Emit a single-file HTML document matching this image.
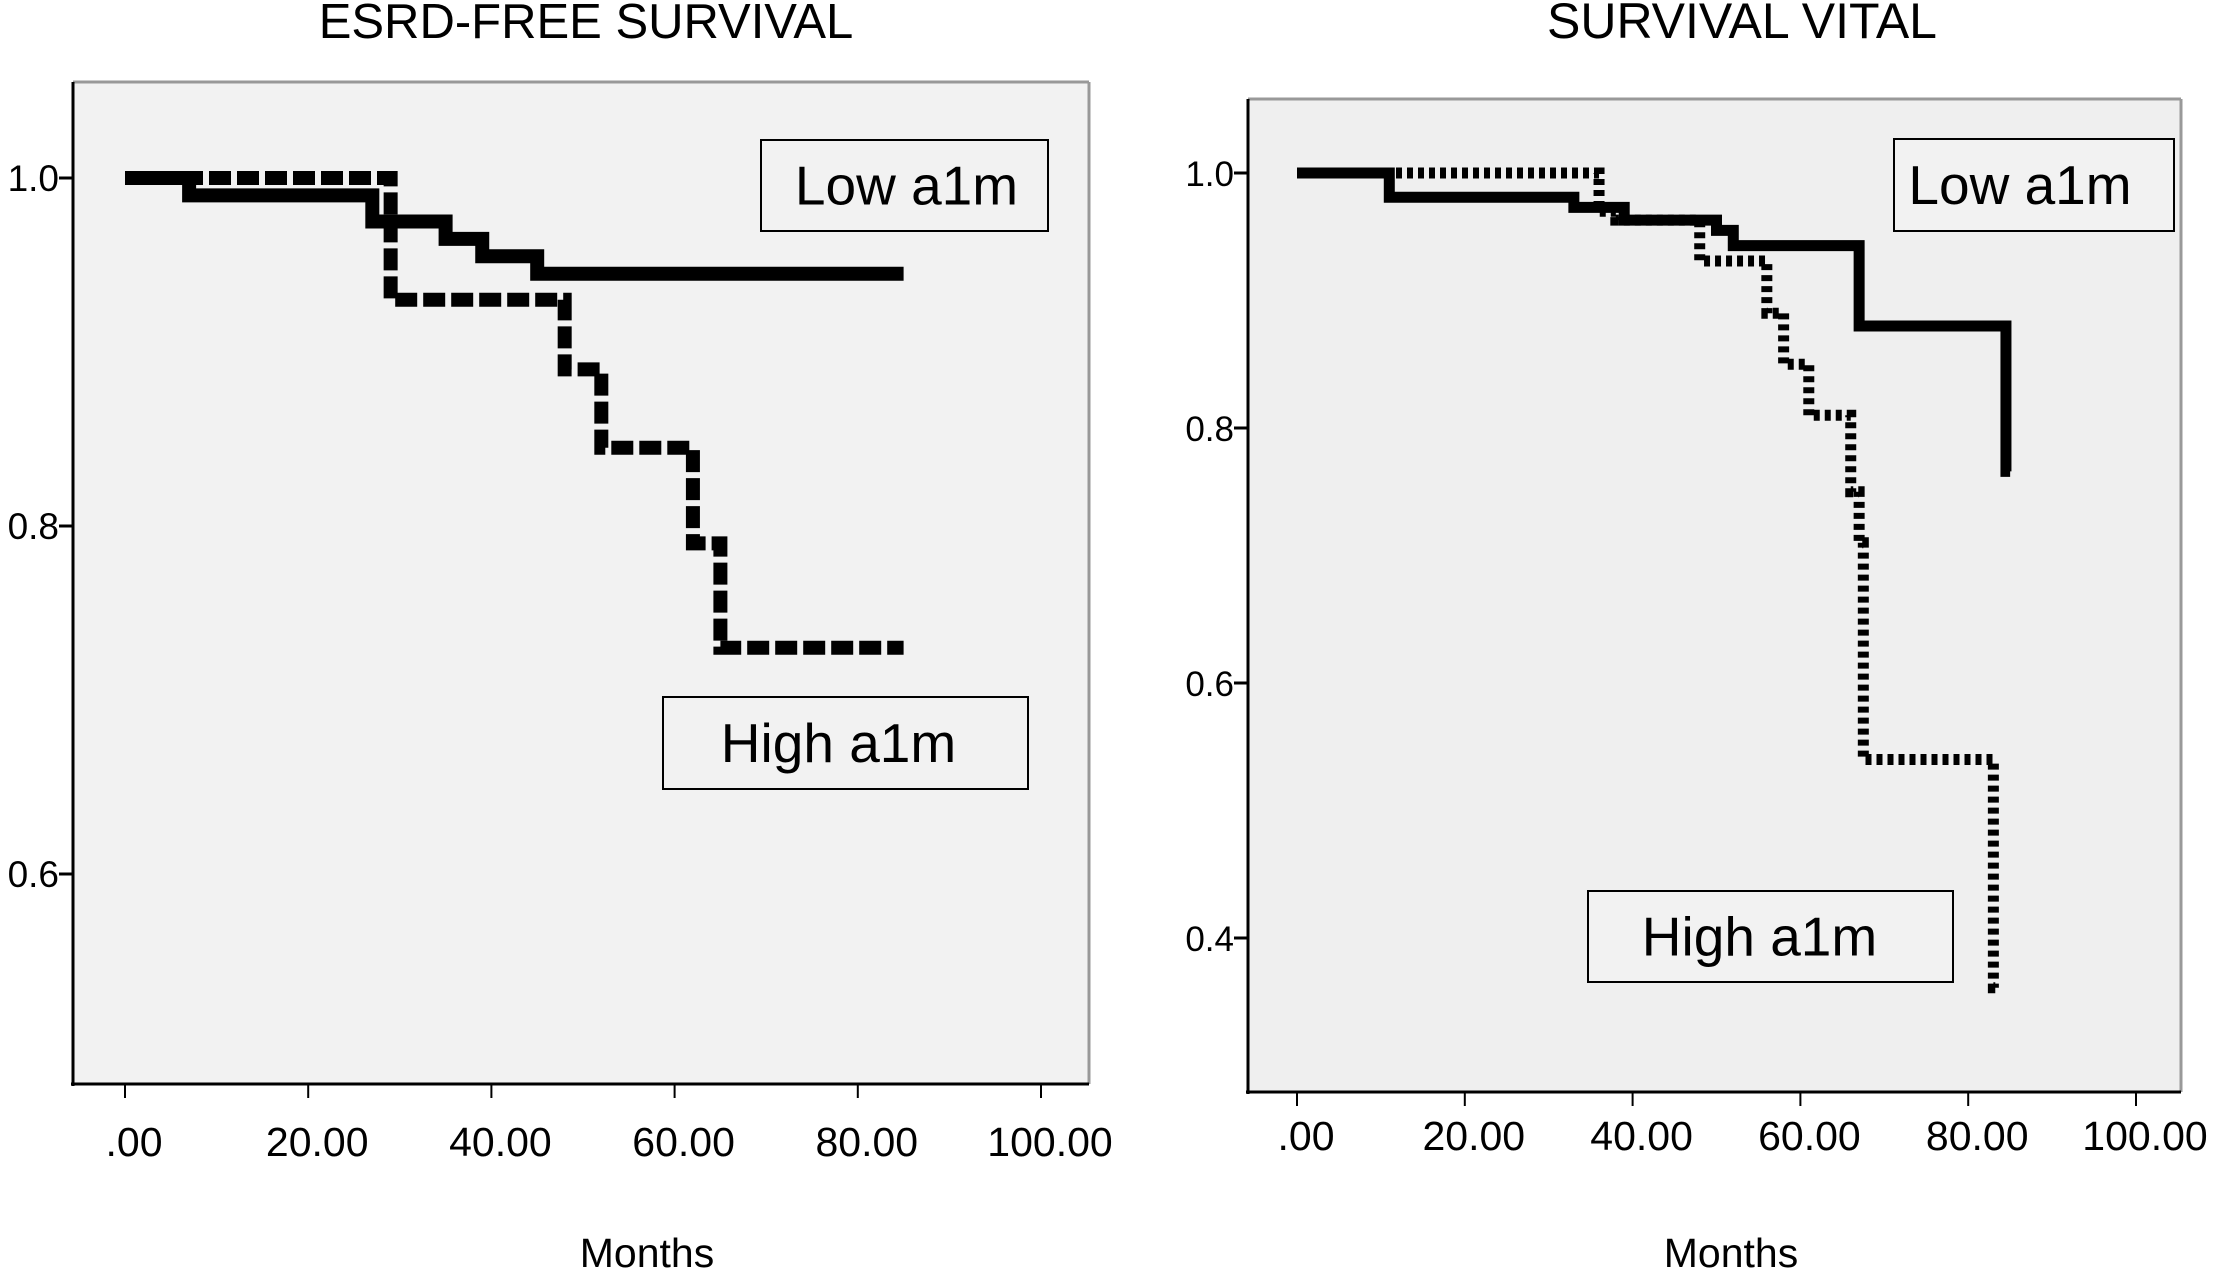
<!DOCTYPE html>
<html><head><meta charset="utf-8"><style>
html,body{margin:0;padding:0;background:#fff;}
svg{display:block;font-family:"Liberation Sans",Arial,sans-serif;}
</style></head><body>
<svg id="c" width="2221" height="1274" viewBox="0 0 2221 1274"></svg>
<script>
// ---- Left panel data (ESRD-free survival) ----
const leftLowT = [0, 7, 27, 35, 39, 45, 85];
const leftLowS = [1.0, 0.99, 0.975, 0.965, 0.955, 0.945, 0.945];
const leftHighT = [0, 29, 48, 52, 62, 65, 85];
const leftHighS = [1.0, 0.93, 0.89, 0.845, 0.79, 0.73, 0.73];
const leftYTicks = [1.0, 0.8, 0.6];
const leftYLabels = ["1.0", "0.8", "0.6"];
// ---- Right panel data (vital survival) ----
const rightLowT = [0, 11, 33, 39, 50, 52, 67, 84.5, 85];
const rightLowS = [1.0, 0.981, 0.973, 0.963, 0.955, 0.943, 0.88, 0.766, 0.766];
const rightHighT = [0, 36, 38, 48, 56, 58, 61, 66, 67, 67.5, 83, 83.5];
const rightHighS = [1.0, 0.97, 0.963, 0.931, 0.89, 0.85, 0.81, 0.75, 0.71, 0.54, 0.361, 0.361];
const rightYTicks = [1.0, 0.8, 0.6, 0.4];
const rightYLabels = ["1.0", "0.8", "0.6", "0.4"];
const xTicks = [0, 20, 40, 60, 80, 100];
const xLabels = [".00", "20.00", "40.00", "60.00", "80.00", "100.00"];

const NS = "http://www.w3.org/2000/svg";
const svg = document.getElementById('c');
function mk(tag, attrs, parent) {
  const e = document.createElementNS(NS, tag);
  for (const k in attrs) e.setAttribute(k, attrs[k]);
  (parent || svg).appendChild(e);
  return e;
}

function panel(p) {
  const g = mk('g', {});
  
  
  const sx = v => p.x0 + (v - 0) * (p.x100 - p.x0) / 100;
  const sy = v => p.y1 + (1 - v) * (p.y08 - p.y1) / 0.2;
  const bg = mk('rect', {x: p.L, y: p.T, width: p.R - p.L, height: p.B - p.T, fill: p.bg}, g);
  
  
  mk('line', {x1: p.L, y1: p.T, x2: p.R, y2: p.T, stroke: '#999', 'stroke-width': 3}, g);
  mk('line', {x1: p.R, y1: p.T, x2: p.R, y2: p.B, stroke: '#999', 'stroke-width': 3}, g);
  const ya = mk('line', {x1: p.L, y1: p.T, x2: p.L, y2: p.B + 2, stroke: '#000', 'stroke-width': 3}, g);
  
  
  const xa = mk('line', {x1: p.L - 2, y1: p.B, x2: p.R, y2: p.B, stroke: '#000', 'stroke-width': 3}, g);
  
  
  p.yTicks.forEach((v, i) => {
    const y = sy(v);
    mk('line', {x1: p.L - 14, y1: y, x2: p.L, y2: y, stroke: '#000', 'stroke-width': 3}, g);
    const t = mk('text', {x: p.L - 14, y: y + 13, 'text-anchor': 'end', 'font-size': p.yfs}, g);
    t.textContent = p.yLabels[i];
    
    
  });
  xTicks.forEach((v, i) => {
    const x = sx(v);
    mk('line', {x1: x, y1: p.B, x2: x, y2: p.B + 14, stroke: '#000', 'stroke-width': 2}, g);
    const t = mk('text', {x: x + 9, y: p.xlY, 'text-anchor': 'middle', 'font-size': 41}, g);
    t.textContent = xLabels[i];
    
    
  });
  const ti = mk('text', {x: p.titleX, y: 38, 'text-anchor': 'middle', 'font-size': p.tfs}, g);
  ti.textContent = p.title;
  
  
  const xt = mk('text', {x: p.monthsX, y: 1267, 'text-anchor': 'middle', 'font-size': 41}, g);
  xt.textContent = 'Months';
  
  

  function step(T, S) {
    let d = 'M' + sx(T[0]) + ' ' + sy(S[0]);
    for (let i = 1; i < T.length; i++) {
      d += ' H' + sx(T[i]) + ' V' + sy(S[i]);
    }
    return d;
  }
  const lo = mk('path', {d: step(p.lowT, p.lowS), fill: 'none', stroke: '#000', 'stroke-width': p.sw}, g);
  
  
  const hi = mk('path', {d: step(p.highT, p.highS), fill: 'none', stroke: '#000', 'stroke-width': p.sw, 'stroke-dasharray': p.dash}, g);
  
  

  [[p.lowBox, 'Low a1m', 'legend-low-a1m', p.lowOff], [p.highBox, 'High a1m', 'legend-high-a1m', p.highOff]].forEach(b => {
    const bx = b[0];
    const lg = mk('g', {}, g);
    
    
    mk('rect', {x: bx[0], y: bx[1], width: bx[2] - bx[0], height: bx[3] - bx[1], fill: '#f2f2f2', stroke: '#000', 'stroke-width': 2}, lg);
    const t = mk('text', {x: (bx[0] + bx[2]) / 2 + b[3], y: (bx[1] + bx[3]) / 2 + 19, 'text-anchor': 'middle', 'font-size': 55}, lg);
    t.textContent = b[1];
  });
}

panel({name: 'esrd-free-survival-chart', L: 73, T: 82, R: 1089, B: 1084, bg: '#f2f2f2',
  x0: 125, x100: 1041, y1: 178, y08: 526, yTicks: leftYTicks, yLabels: leftYLabels,
  xlY: 1156, title: 'ESRD-FREE SURVIVAL', titleX: 586, monthsX: 647, tfs: 49, yfs: 37,
  lowT: leftLowT, lowS: leftLowS, highT: leftHighT, highS: leftHighS, sw: 14, dash: '22 6',
  lowBox: [761, 140, 1048, 231], highBox: [663, 697, 1028, 789], lowOff: 2, highOff: -7});
panel({name: 'survival-vital-chart', L: 1248, T: 99, R: 2181, B: 1092, bg: '#efefef',
  x0: 1297, x100: 2136, y1: 173, y08: 428, yTicks: rightYTicks, yLabels: rightYLabels,
  xlY: 1150, title: 'SURVIVAL VITAL', titleX: 1742, monthsX: 1731, tfs: 50, yfs: 35,
  lowT: rightLowT, lowS: rightLowS, highT: rightHighT, highS: rightHighS, sw: 11, dash: '6 5',
  lowBox: [1894, 139, 2174, 231], highBox: [1588, 891, 1953, 982], lowOff: -14, highOff: -11});
</script>
</body></html>
